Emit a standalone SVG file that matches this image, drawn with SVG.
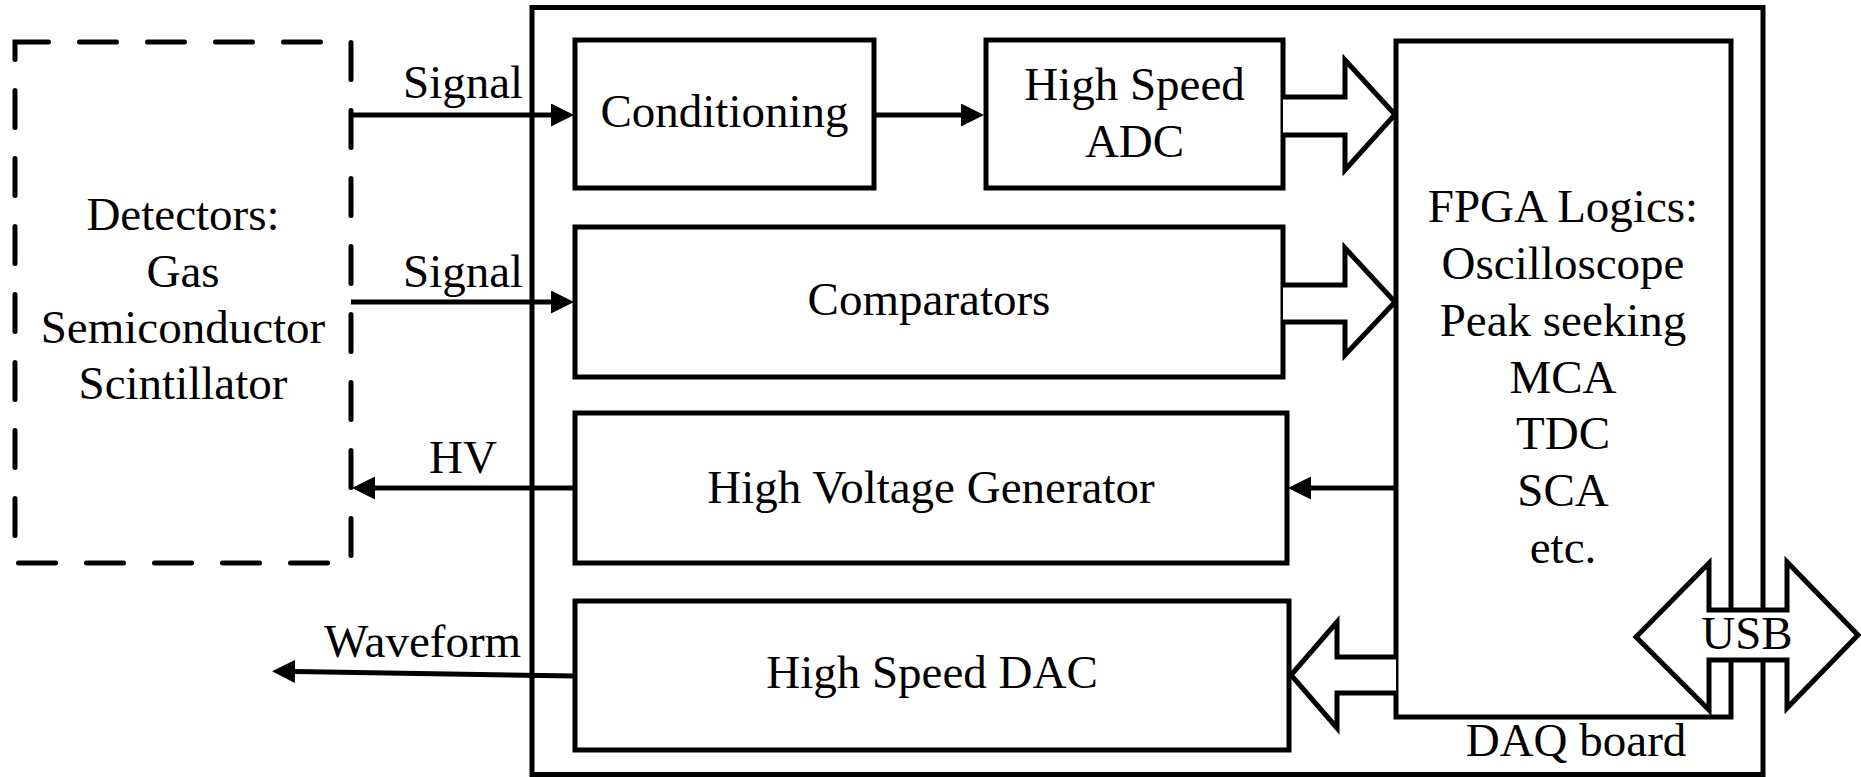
<svg xmlns="http://www.w3.org/2000/svg" width="1861" height="777" viewBox="0 0 1861 777">
<style>
.box{fill:none;stroke:#000;stroke-width:5}
.dash{fill:none;stroke:#000;stroke-width:5;stroke-dasharray:37 31;stroke-dashoffset:3.5;stroke-linecap:round}
.ln{fill:none;stroke:#000;stroke-width:5}
.fat{fill:#fff;stroke:#000;stroke-width:5;stroke-linejoin:miter}
.t{font-family:"Liberation Serif","Times New Roman",serif;font-size:47px;fill:#000}
.c{text-anchor:middle}
</style>
<defs>
<marker id="ah" markerUnits="userSpaceOnUse" markerWidth="24" markerHeight="24" refX="0" refY="11.5" orient="auto" viewBox="0 0 24 24">
<path d="M0,0 L23,11.5 L0,23 Z" fill="#000"/>
</marker>
</defs>
<rect width="1861" height="777" fill="#fff"/>
<g id="daq-board">
<rect class="box" x="532" y="7.5" width="1231" height="767"/>
<text class="t c" x="1576" y="756">DAQ board</text>
</g>
<g id="detectors">
<path class="dash" d="M15,42 H351 V563 H15 Z"/>
<text class="t c" x="183" y="230">Detectors:</text>
<text class="t c" x="183" y="287">Gas</text>
<text class="t c" x="183" y="343">Semiconductor</text>
<text class="t c" x="183" y="399">Scintillator</text>
</g>
<g id="conditioning">
<rect class="box" x="575" y="40" width="299" height="148"/>
<text class="t c" x="724.5" y="127">Conditioning</text>
</g>
<g id="adc">
<rect class="box" x="986" y="40" width="297" height="148"/>
<text class="t c" x="1134.5" y="100">High Speed</text>
<text class="t c" x="1134.5" y="157">ADC</text>
</g>
<g id="comparators">
<rect class="box" x="575" y="227" width="708" height="150"/>
<text class="t c" x="929" y="315">Comparators</text>
</g>
<g id="hv-generator">
<rect class="box" x="575" y="413" width="712" height="150"/>
<text class="t c" x="931" y="503">High Voltage Generator</text>
</g>
<g id="dac">
<rect class="box" x="575" y="601" width="714" height="149"/>
<text class="t c" x="932" y="688">High Speed DAC</text>
</g>
<g id="fpga">
<rect class="box" x="1396" y="41" width="335" height="676"/>
<text class="t c" x="1563" y="222">FPGA Logics:</text>
<text class="t c" x="1563" y="279">Oscilloscope</text>
<text class="t c" x="1563" y="336">Peak seeking</text>
<text class="t c" x="1563" y="393">MCA</text>
<text class="t c" x="1563" y="449">TDC</text>
<text class="t c" x="1563" y="506">SCA</text>
<text class="t c" x="1563" y="563">etc.</text>
</g>
<g id="connectors">
<path class="ln" d="M351,115 H551" marker-end="url(#ah)"/>
<path class="ln" d="M351,302 H551" marker-end="url(#ah)"/>
<path class="ln" d="M874,115 H961" marker-end="url(#ah)"/>
<path class="ln" d="M1396,488 H1311" marker-end="url(#ah)"/>
<path class="ln" d="M575,488 H375" marker-end="url(#ah)"/>
<path class="ln" d="M575,676 L295,671.5" marker-end="url(#ah)"/>
<polyline class="fat" points="1283,97 1345,97 1345,60 1395,114.5 1345,170 1345,135 1283,135"/>
<polyline class="fat" points="1283,285 1345,285 1345,248 1395,302 1345,355 1345,322 1283,322"/>
<polyline class="fat" points="1396,657 1337,657 1337,622 1291,675 1337,728 1337,693 1396,693"/>
<text class="t" x="403" y="98">Signal</text>
<text class="t" x="403" y="287">Signal</text>
<text class="t" x="429" y="473">HV</text>
<text class="t" x="324" y="657">Waveform</text>
</g>
<g id="usb">
<polygon class="fat" points="1636,637 1709,563 1709,610 1787,610 1787,562 1858,635 1787,708 1787,660 1709,660 1709,710"/>
<text class="t c" x="1747" y="649">USB</text>
</g>
</svg>
